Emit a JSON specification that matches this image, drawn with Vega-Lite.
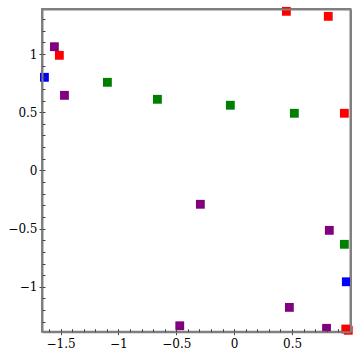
{
  "$schema": "https://vega.github.io/schema/vega-lite/v6.json",
  "width": 308.5,
  "height": 322.7,
  "autosize": {"type": "none"},
  "padding": {"left": 42, "top": 9, "right": 4.5, "bottom": 23.3},
  "background": "white",
  "config": {
    "view": {"stroke": "#808080", "strokeWidth": 2},
    "axis": {"labelFont": "DejaVu Serif", "labelFontSize": 12, "labelColor": "#000", "grid": false, "tickColor": "#444", "tickWidth": 1, "title": null, "domainColor": "#808080", "domainWidth": 2}
  },
  "data": {
    "values": [
      {"x": -1.553, "y": 1.063, "c": "purple"},
      {"x": -1.510, "y": 0.989, "c": "red"},
      {"x": -1.639, "y": 0.800, "c": "blue"},
      {"x": -1.466, "y": 0.645, "c": "purple"},
      {"x": -1.095, "y": 0.757, "c": "green"},
      {"x": -0.663, "y": 0.611, "c": "green"},
      {"x": 0.451, "y": 1.367, "c": "red"},
      {"x": 0.813, "y": 1.324, "c": "red"},
      {"x": -0.033, "y": 0.560, "c": "green"},
      {"x": 0.520, "y": 0.491, "c": "green"},
      {"x": 0.952, "y": 0.491, "c": "red"},
      {"x": -0.470, "y": -1.335, "c": "purple"},
      {"x": -0.292, "y": -0.291, "c": "purple"},
      {"x": 0.822, "y": -0.515, "c": "purple"},
      {"x": 0.952, "y": -0.635, "c": "green"},
      {"x": 0.969, "y": -0.957, "c": "blue"},
      {"x": 0.477, "y": -1.177, "c": "purple"},
      {"x": 0.798, "y": -1.357, "c": "purple"},
      {"x": 0.964, "y": -1.363, "c": "red"},
      {"x": 0.986, "y": -1.374, "c": "red"}
    ]
  },
  "layer": [
    {
      "mark": {"type": "square", "size": 78, "opacity": 1},
      "encoding": {
        "x": {"field": "x", "type": "quantitative",
          "scale": {"domain": [-1.66, 1.005], "nice": false, "zero": false},
          "axis": {"orient": "bottom", "values": [-1.5, -1, -0.5, 0, 0.5], "format": "~g", "domain": true, "zindex": 1, "tickSize": 3, "labelPadding": 4}},
        "y": {"field": "y", "type": "quantitative",
          "scale": {"domain": [-1.386, 1.387], "nice": false, "zero": false},
          "axis": {"orient": "left", "values": [-1, -0.5, 0, 0.5, 1], "format": "~g", "domain": true, "zindex": 1, "tickSize": 3, "labelPadding": 2}},
        "color": {"field": "c", "type": "nominal",
          "scale": {"domain": ["red", "green", "blue", "purple"], "range": ["#ff0000", "#008000", "#0000ff", "#800080"]},
          "legend": null}
      }
    },
    {
      "mark": {"type": "square", "opacity": 0},
      "encoding": {
        "x": {"field": "x", "type": "quantitative",
          "axis": {"orient": "bottom", "values": [-1.6,-1.5,-1.4,-1.3,-1.2,-1.1,-1,-0.9,-0.8,-0.7,-0.6,-0.5,-0.4,-0.3,-0.2,-0.1,0,0.1,0.2,0.3,0.4,0.5,0.6,0.7,0.8,0.9,1.0], "labels": false, "domain": false, "zindex": 1, "tickSize": -3}},
        "y": {"field": "y", "type": "quantitative",
          "axis": {"orient": "left", "values": [-1.3,-1.2,-1.1,-1,-0.9,-0.8,-0.7,-0.6,-0.5,-0.4,-0.3,-0.2,-0.1,0,0.1,0.2,0.3,0.4,0.5,0.6,0.7,0.8,0.9,1.0,1.1,1.2,1.3], "labels": false, "domain": false, "zindex": 1, "tickSize": -3}}
      }
    },
    {
      "mark": {"type": "square", "opacity": 0},
      "encoding": {
        "x": {"field": "x", "type": "quantitative",
          "axis": {"orient": "top", "labels": false, "ticks": false, "domain": true, "zindex": 1}},
        "y": {"field": "y", "type": "quantitative",
          "axis": {"orient": "right", "labels": false, "ticks": false, "domain": true, "zindex": 1}}
      }
    }
  ],
  "resolve": {"axis": {"x": "independent", "y": "independent"}}
}
